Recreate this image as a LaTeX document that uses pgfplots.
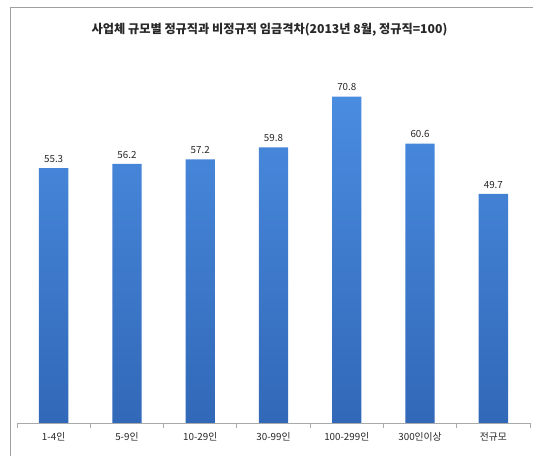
\documentclass[border=0pt]{standalone}
\usepackage{fontspec}
\setmainfont{Noto Sans CJK KR}
\usepackage{pgfplots}
\pgfplotsset{compat=1.18}
\definecolor{barTop}{RGB}{74,140,224}
\definecolor{barBot}{RGB}{50,104,184}
\definecolor{axgray}{RGB}{170,170,170}
\definecolor{framegray}{RGB}{160,160,160}
\definecolor{txt}{RGB}{40,40,40}
\begin{document}
\begin{tikzpicture}
\useasboundingbox (0,0) rectangle (533bp,456bp);
\fill[white] (-2bp,-2bp) rectangle (535bp,458bp);
\draw[framegray, line width=0.9bp] (10bp,0bp) -- (10bp,449bp) -- (540bp,449bp);
\node[font=\bfseries\fontsize{12.2bp}{14bp}\selectfont, text=txt] at (269.5bp,426bp) {사업체 규모별 정규직과 비정규직 임금격차(2013년 8월, 정규직=100)};
\begin{axis}[
  at={(17bp,33bp)}, anchor=south west,
  scale only axis, width=513bp, height=368.8bp,
  xmin=-0.5, xmax=6.5, ymin=0, ymax=80,
  axis y line=none, axis x line*=bottom,
  y axis line style={draw=none},
  x axis line style={axgray, line width=0.8bp, -},
  xtick={0,...,6},
  xticklabels={1-4인,5-9인,10-29인,30-99인,100-299인,300인이상,전규모},
  minor xtick={-0.5,0.5,...,6.5},
  major tick length=0pt,
  minor tick length=5bp,
  tick align=outside,
  minor tick style={axgray, line width=0.8bp},
  xticklabel style={font=\fontsize{9.8bp}{11bp}\selectfont, text=txt, yshift=-6bp},
  ybar, bar width=0.4,
  nodes near coords,
  nodes near coords style={font=\fontsize{9.8bp}{11bp}\selectfont, text=txt, yshift=2bp,
    /pgf/number format/.cd, fixed, fixed zerofill, precision=1, assume math mode=true},
  clip=false,
]
\addplot[draw=none, top color=barTop, bottom color=barBot] coordinates {
(0,55.3) (1,56.2) (2,57.2) (3,59.8) (4,70.8) (5,60.6) (6,49.7)};
\end{axis}
\end{tikzpicture}
\end{document}
